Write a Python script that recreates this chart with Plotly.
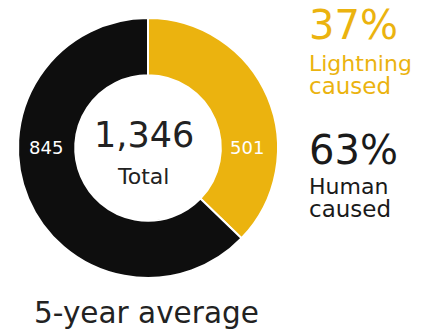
import plotly.graph_objects as go

categories = ["Lightning caused", "Human caused"]
short_labels = ["Lightning<br>caused", "Human<br>caused"]
values = [501, 845]
colors = ["#EBB30F", "#0E0E0E"]
subtitle = "5-year average"
center_label = "Total"

# The page body has an 8px default margin; the figure fills the rest of the window.
OFF = 8
W, H = 423 - OFF, 335 - OFF
FONT = "DejaVu Sans"

total = sum(values)
pcts = [round(v / total * 100) for v in values]


def py(px):
    return 1 - (px - OFF) / H


def px_x(px):
    return (px - OFF) / W


cx, cy, r = 148, 148, 130

fig = go.Figure()
fig.add_trace(go.Pie(
    labels=categories,
    values=values,
    hole=0.56,
    sort=False,
    direction="clockwise",
    rotation=0,
    marker=dict(colors=colors, line=dict(color="white", width=2)),
    textinfo="none",
    hoverinfo="label+value",
    showlegend=False,
    domain=dict(x=[px_x(cx - r), px_x(cx + r)], y=[py(cy + r), py(cy - r)]),
))

ann = []
# slice value labels on ring midline
ann.append(dict(x=px_x(247), y=py(147), text=str(values[0]), font=dict(size=18, color="white", family=FONT)))
ann.append(dict(x=px_x(46), y=py(147), text=str(values[1]), font=dict(size=18, color="white", family=FONT)))
# centre total
ann.append(dict(x=px_x(144), y=py(135), text=f"{total:,}", font=dict(size=35, color="#222222", family=FONT)))
ann.append(dict(x=px_x(143), y=py(176), text=center_label, font=dict(size=22, color="#222222", family=FONT)))
# right-hand percentages
lines0 = short_labels[0].split("<br>")
lines1 = short_labels[1].split("<br>")
ann.append(dict(x=px_x(307), y=py(25), xanchor="left", text=f"{pcts[0]}%", font=dict(size=40, color=colors[0], family=FONT)))
ann.append(dict(x=px_x(307), y=py(64), xanchor="left", text=lines0[0], font=dict(size=22, color=colors[0], family=FONT)))
ann.append(dict(x=px_x(307), y=py(86), xanchor="left", text=lines0[1], font=dict(size=23, color=colors[0], family=FONT)))
ann.append(dict(x=px_x(307), y=py(150), xanchor="left", text=f"{pcts[1]}%", font=dict(size=40, color="#1a1a1a", family=FONT)))
ann.append(dict(x=px_x(307), y=py(186), xanchor="left", text=lines1[0], font=dict(size=22, color="#1a1a1a", family=FONT)))
ann.append(dict(x=px_x(307), y=py(209), xanchor="left", text=lines1[1], font=dict(size=23, color="#1a1a1a", family=FONT)))
# subtitle
ann.append(dict(x=px_x(146), y=py(313), text=subtitle, font=dict(size=29.5, color="#222222", family=FONT)))

for a in ann:
    a.setdefault("xanchor", "center")
    a.update(xref="paper", yref="paper", yanchor="middle", showarrow=False)

fig.update_layout(
    width=W, height=H,
    margin=dict(l=0, r=0, t=0, b=0),
    paper_bgcolor="white", plot_bgcolor="white",
    annotations=ann,
)

fig.write_html("out.html", config={"displayModeBar": False})
